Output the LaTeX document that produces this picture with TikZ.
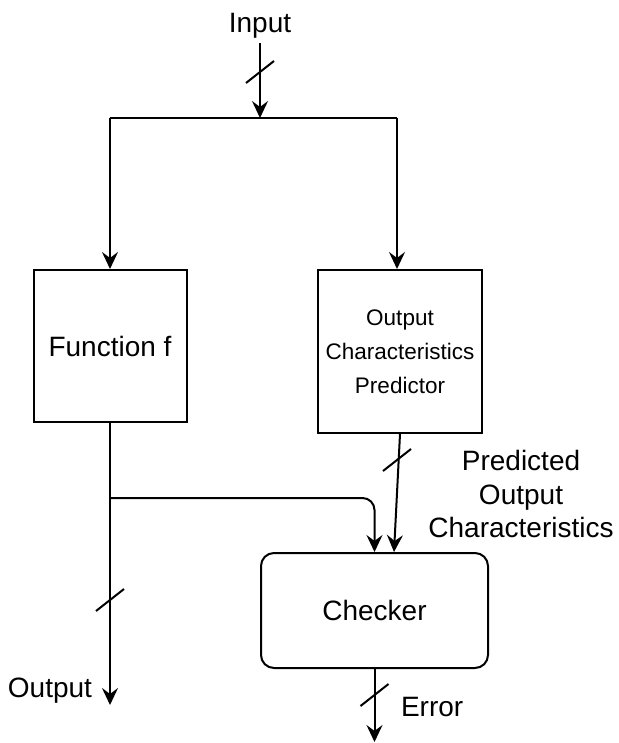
\documentclass[tikz,border=0pt]{standalone}
\usepackage{fontspec}
\setmainfont{Liberation Sans}
\usetikzlibrary{arrows.meta}

\begin{document}
\begin{tikzpicture}[x=0.5pt, y=-0.5pt, line width=1pt,
		blk/.style = {draw, inner sep=0pt, align=center},
		arr/.style = {-{Stealth[length=8.5pt, width=8pt, inset=3pt]}},
		lbl/.style = {font=\fontsize{14}{16.75}\selectfont, inner sep=1.5pt, align=center},
		small/.style = {font=\fontsize{11.25}{17}\selectfont}]
	\useasboundingbox (0,0) rectangle (618,743);

	\node[lbl, anchor=base] (input) at (260,33) {Input};
	\coordinate (split) at (260,118);
	\coordinate (splitL) at (110,118);
	\coordinate (splitR) at (397,118);

	\node[blk, lbl, inner sep=0pt, minimum width=76.5pt, minimum height=76pt] (func) at (110,346) {Function f};
	\node[blk, small, minimum width=82pt, minimum height=81.5pt] (ocp) at (400,351.5) {Output\\Characteristics\\Predictor};
	\node[blk, lbl, inner sep=0pt, rounded corners=6.5pt, minimum width=113.5pt, minimum height=57.5pt] (chk) at (374.5,610.5) {Checker};

	\node[lbl, inner sep=0pt] (pred) at (521,494) {Predicted\\Output\\Characteristics};
	\node[lbl, inner sep=0pt, anchor=base east] (output) at (93,697) {Output};
	\node[lbl, inner sep=0pt, anchor=base west] (error) at (400,716) {Error};

	\coordinate (br) at (110,498);
	\coordinate (outEnd) at (110,705);
	\coordinate (errEnd) at (374.5,742);

	% bus marks
	\coordinate (sIn) at (260,72);
	\coordinate (sOut) at (110,600);
	\coordinate (sPred) at (397,460);
	\coordinate (sErr) at (374.5,695);

	\draw[arr] (input) -- (split);
	\draw (splitL) -- (splitR);
	\draw[arr] (splitL) -- (splitL |- func.north);
	\draw[arr] (splitR) -- (splitR |- ocp.north);
	\draw[arr] (func) -- (outEnd);
	\draw[arr, rounded corners=6pt] (br) -| (chk.north);
	\draw[arr] (ocp.south) -- ([xshift=9.75pt]chk.north);
	\draw[arr] (chk) -- (errEnd);

	\foreach \s in {sIn, sOut, sPred, sErr}
		\draw (\s) +(-14,11) -- +(14,-11);
\end{tikzpicture}
\end{document}
